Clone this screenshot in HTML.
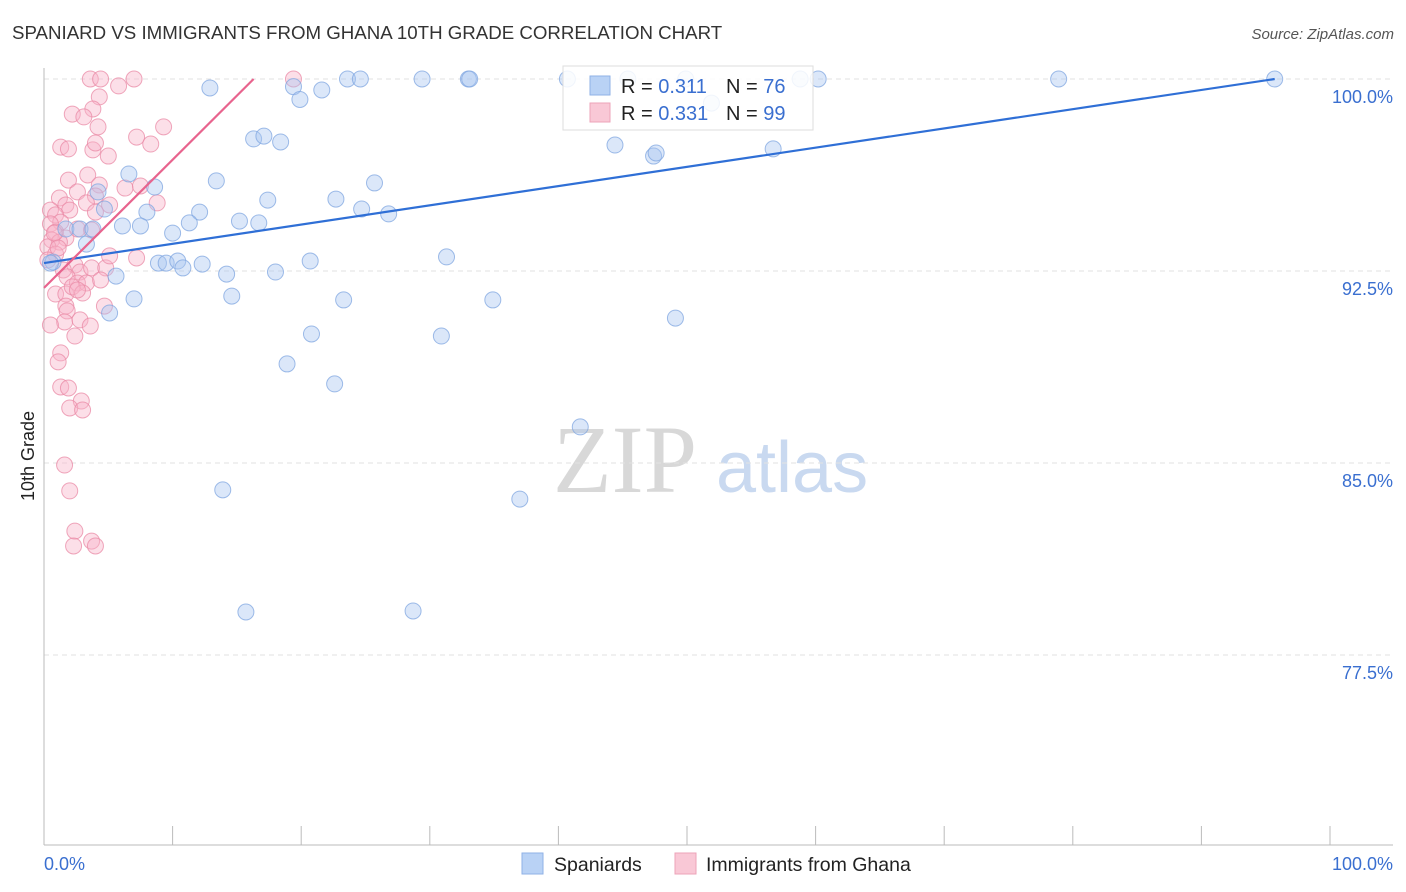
<!DOCTYPE html>
<html><head><meta charset="utf-8"><style>
body{margin:0;background:#fff;font-family:"Liberation Sans",sans-serif;}
svg{display:block}
</style></head><body>
<svg id="chart" width="1406" height="892" xmlns="http://www.w3.org/2000/svg">
<text x="12" y="39" font-size="18.7" fill="#333">SPANIARD VS IMMIGRANTS FROM GHANA 10TH GRADE CORRELATION CHART</text>
<text x="1394" y="39" font-size="15" fill="#555" font-style="italic" text-anchor="end">Source: ZipAtlas.com</text>
<g>
<text x="553" y="492" font-size="96" font-family="Liberation Serif,serif" fill="#d8d8d8">ZIP</text>
<text x="716" y="492" font-size="72" fill="#c9d9f0">atlas</text>
</g>
<g id="grid"></g>
<g id="axes"></g>
<g id="marks"></g>
<text transform="translate(34,456) rotate(-90)" font-size="18" fill="#222" text-anchor="middle">10th Grade</text>
<g>
<rect x="563" y="66" width="250" height="64" fill="#fff" fill-opacity="0.85" stroke="#ddd"/>
<rect x="590" y="76" width="20" height="19" fill="#b9d2f5" stroke="#8fb1e6"/>
<text x="621" y="93" font-size="20" fill="#222">R = <tspan fill="#3a6fd0">0.311</tspan><tspan x="726">N = </tspan><tspan fill="#3a6fd0">76</tspan></text>
<rect x="590" y="103" width="20" height="19" fill="#f9c8d6" stroke="#eda3b8"/>
<text x="621" y="120" font-size="20" fill="#222">R = <tspan fill="#3a6fd0">0.331</tspan><tspan x="726">N = </tspan><tspan fill="#3a6fd0">99</tspan></text>
</g>
<g>
<rect x="522" y="853" width="21" height="21" fill="#b9d2f5" stroke="#8fb1e6"/>
<text x="554" y="871" font-size="19.5" fill="#222">Spaniards</text>
<rect x="675" y="853" width="21" height="21" fill="#f9c8d6" stroke="#eda3b8"/>
<text x="706" y="871" font-size="19.5" fill="#222">Immigrants from Ghana</text>
</g>
</svg>
<script>
const yTicks=[100,92.5,85,77.5];
const yTickLabels=["100.0%","92.5%","85.0%","77.5%"];
const xTickLabels=["0.0%","100.0%"];
const blueX=[12.9,19.4,19.9,21.6,23.6,24.6,29.4,33.0,33.1,40.7,45.4,49.9,58.8,60.2,78.9,95.7,51.9,16.3,17.1,18.4,44.4,47.4,47.6,56.7,6.6,8.6,13.4,17.4,22.7,25.7,4.2,4.7,8.0,12.1,15.2,16.7,24.7,26.8,11.3,1.7,2.8,3.8,6.1,7.5,10.0,3.3,0.7,5.6,8.9,9.5,10.4,10.8,12.3,14.2,18.0,20.7,31.3,7.0,14.6,23.3,34.9,5.1,20.8,30.9,49.1,18.9,22.6,41.7,13.9,37.0,15.7,28.7,0.5];
const blueY=[99.65,99.7,99.2,99.57,100,100,100,100,100,100,100,100,100,100,100,100,99.06,97.66,97.77,97.54,97.42,96.99,97.11,97.27,96.29,95.78,96.02,95.27,95.31,95.94,95.59,94.92,94.80,94.80,94.45,94.38,94.92,94.73,94.38,94.14,94.14,94.14,94.26,94.26,93.98,93.55,92.85,92.30,92.81,92.81,92.89,92.62,92.77,92.38,92.46,92.89,93.05,91.41,91.52,91.37,91.37,90.86,90.04,89.96,90.66,88.87,88.09,86.41,83.95,83.59,79.18,79.22,92.81];
const pinkX=[3.6,4.4,7.0,19.4,5.8,4.3,3.8,2.2,3.1,4.2,9.3,7.2,8.3,1.3,1.9,3.8,4.0,5.0,3.4,1.9,4.3,6.3,2.6,4.0,1.2,3.3,7.5,8.8,5.1,0.5,1.7,2.0,0.9,4.0,1.3,0.5,0.9,1.7,2.6,3.7,0.6,1.2,0.3,0.9,7.2,2.4,1.5,2.8,3.7,4.8,1.8,2.6,3.3,4.4,0.9,1.7,2.2,3.0,2.6,4.7,1.7,1.8,1.6,2.8,3.6,0.5,2.4,1.3,1.1,1.3,1.9,2.9,2.0,3.0,1.6,2.0,2.4,3.7,2.3,4.0,0.3,0.8,5.1,1.1];
const pinkY=[100,100,100,100,99.73,99.3,98.83,98.63,98.52,98.13,98.13,97.73,97.46,97.34,97.27,97.23,97.5,96.99,96.25,96.05,95.86,95.74,95.59,95.43,95.35,95.16,95.82,95.16,95.08,94.88,95.08,94.88,94.69,94.8,94.41,94.34,94.02,93.79,94.14,94.1,93.71,93.63,93.44,93.16,93.01,92.73,92.54,92.46,92.62,92.62,92.27,92.03,92.03,92.15,91.6,91.6,91.88,91.64,91.76,91.13,91.13,90.94,90.51,90.59,90.35,90.39,89.96,89.3,88.95,87.97,87.93,87.42,87.15,87.07,84.92,83.91,82.34,81.95,81.76,81.76,92.93,93.98,93.09,93.4];
const blueTrend=[[0,92.81],[95.7,100]];
const pinkTrend=[[0,91.84],[16.3,100]];

const X=v=>44+v*12.86;
const Y=v=>79+(100-v)*25.6;
const NS="http://www.w3.org/2000/svg";
function mk(tag,attrs,parent){const e=document.createElementNS(NS,tag);for(const k in attrs)e.setAttribute(k,attrs[k]);parent.appendChild(e);return e;}
const grid=document.getElementById('grid'),axes=document.getElementById('axes'),marks=document.getElementById('marks');
yTicks.forEach((t,i)=>{
  const l=mk('line',{x1:44,x2:1393,y1:Y(t),y2:Y(t),stroke:'#e2e2e2','stroke-dasharray':'5,4'},grid);
  
  
  const tx=mk('text',{x:1393,y:Y(t)+24,'font-size':18,fill:'#3a6fd0','text-anchor':'end'},axes);
  tx.textContent=yTickLabels[i];
  
  
});
const ya=mk('line',{x1:44,x2:44,y1:68,y2:845,stroke:'#bbb'},axes);


const xa=mk('line',{x1:44,x2:1393,y1:845,y2:845,stroke:'#bbb'},axes);


for(let i=0;i<=10;i++){
  const t=mk('line',{x1:X(i*10),x2:X(i*10),y1:826,y2:845,stroke:'#bbb'},axes);
  
  
}
[[0,'start',44],[100,'end',1393]].forEach((d,i)=>{
  const tx=mk('text',{x:d[2],y:870,'font-size':18,fill:'#3a6fd0','text-anchor':d[1]},axes);
  tx.textContent=xTickLabels[i];
  
  
});
function pts(xs,ys,fill,stroke,name){
  xs.forEach((x,i)=>{
    const c=mk('circle',{cx:X(x),cy:Y(ys[i]),r:8,fill:fill,'fill-opacity':0.42,stroke:stroke,'stroke-opacity':0.75,'stroke-width':1},marks);
    
    
  });
}
pts(pinkX,pinkY,'#f7b3c7','#ea89a6','ghana-point');
pts(blueX,blueY,'#a9c6f0','#7fa6e0','spaniard-point');
const bl=mk('line',{x1:X(blueTrend[0][0]),y1:Y(blueTrend[0][1]),x2:X(blueTrend[1][0]),y2:Y(blueTrend[1][1]),stroke:'#2f6fd6','stroke-width':2.2},marks);


const pl=mk('line',{x1:X(pinkTrend[0][0]),y1:Y(pinkTrend[0][1]),x2:X(pinkTrend[1][0]),y2:Y(pinkTrend[1][1]),stroke:'#e8648e','stroke-width':2.2},marks);


</script>
</body></html>
